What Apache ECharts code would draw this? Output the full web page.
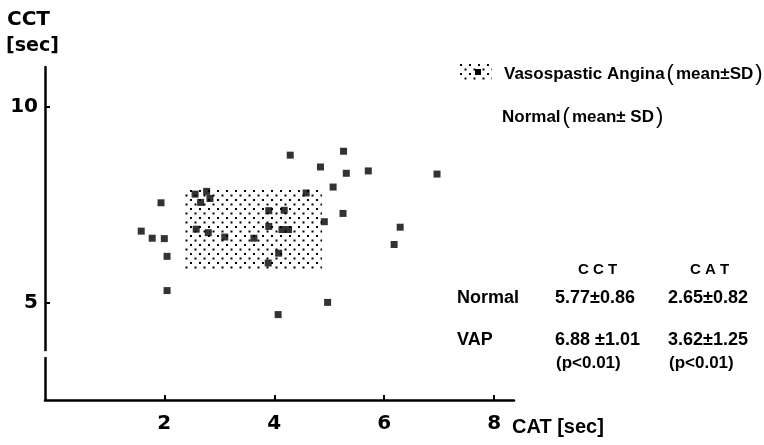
<!DOCTYPE html>
<html>
<head>
<meta charset="utf-8">
<script src="https://cdn.jsdelivr.net/npm/echarts@6/dist/echarts.min.js"></script>
<style>
  html, body { margin: 0; padding: 0; background: #fff; }
  #chart { width: 764px; height: 445px; }
</style>
</head>
<body>
<div id="chart"></div>
<script>
// Individual measurements: circulation appearance time (CAT) vs circulation clearance time (CCT)
const catX = [4.29, 4.84, 5.07, 1.94, 2.56, 2.77, 2.83, 2.66, 4.58, 3.90, 4.18, 4.91,
              3.90, 4.14, 4.26, 2.58, 2.80, 3.10, 3.63, 1.58, 1.78, 2.00, 2.05, 4.08,
              3.89, 2.05, 4.97, 4.07, 5.26, 5.31, 5.71, 6.96, 5.25, 6.29, 6.18];
const cctY = [8.76, 8.46, 7.95, 7.55, 7.77, 7.84, 7.66, 7.56, 7.80, 7.35, 7.36, 7.07,
              6.95, 6.87, 6.87, 6.88, 6.79, 6.68, 6.65, 6.83, 6.65, 6.64, 6.19, 6.27,
              6.02, 5.32, 5.02, 4.71, 8.86, 8.30, 8.36, 8.28, 7.28, 6.93, 6.49];

// Group statistics (mean, SD)
const groupNames = ['Normal', 'VAP'];
const cctMean = [5.77, 6.88];
const cctSD = [0.86, 1.01];
const catMean = [2.65, 3.62];
const catSD = [0.82, 1.25];
const pNote = '(p<0.01)';

const xTicks = [2, 4, 6, 8];
const yTicks = [5, 10];

const LIB = '"Liberation Sans", Arial, sans-serif';
const DJV = '"DejaVu Sans", sans-serif';

// dotted fill for the mean ± SD box
function dotPattern() {
  const c = document.createElement('canvas');
  c.width = 9; c.height = 9;
  const g = c.getContext('2d');
  g.fillStyle = '#000';
  g.fillRect(1, 1, 2, 2);
  g.fillRect(5.5, 5.5, 2, 2);
  return c;
}
const dots = dotPattern();

const vap = 1;
const boxData = [[catMean[vap] - catSD[vap], cctMean[vap] - cctSD[vap],
                  catMean[vap] + catSD[vap], cctMean[vap] + cctSD[vap]]];

const chart = echarts.init(document.getElementById('chart'), null, { renderer: 'canvas' });

const labelStyle = { color: '#000', fontFamily: DJV, fontWeight: 'bold', fontSize: 20 };

const option = {
  animation: false,
  backgroundColor: '#fff',
  grid: { left: 45, right: 250, top: 67, bottom: 45 },
  xAxis: {
    type: 'value', min: -0.17, max: 8.36,
    splitLine: { show: false },
    axisLine: { show: true, onZero: false, lineStyle: { color: '#000', width: 2.5 } },
    axisTick: { show: true, inside: true, length: 5, customValues: xTicks, lineStyle: { color: '#000', width: 2 } },
    axisLabel: Object.assign({ customValues: xTicks, margin: 14 }, labelStyle)
  },
  yAxis: {
    type: 'value', min: 2.54, max: 11.0,
    splitLine: { show: false },
    axisLine: { show: true, onZero: false, lineStyle: { color: '#000', width: 2.5 } },
    axisTick: { show: true, inside: true, length: 5, customValues: yTicks, lineStyle: { color: '#000', width: 2 } },
    axisLabel: Object.assign({ customValues: yTicks, margin: 7 }, labelStyle)
  },
  series: [
    {
      type: 'custom',
      z: 1,
      data: boxData,
      renderItem: function (params, api) {
        const p1 = api.coord([api.value(0), api.value(3)]);
        const p2 = api.coord([api.value(2), api.value(1)]);
        return {
          type: 'rect',
          shape: { x: p1[0], y: p1[1], width: p2[0] - p1[0], height: p2[1] - p1[1] },
          style: { fill: { image: dots, repeat: 'repeat' } }
        };
      }
    },
    {
      type: 'scatter',
      z: 3,
      symbol: 'rect',
      symbolSize: 7,
      itemStyle: { color: '#000' },
      data: catX.map((x, i) => [x, cctY[i]])
    }
  ]
};
chart.setOption(option);

// axis break, legend, titles and summary table
const breakTop = chart.convertToPixel({ yAxisIndex: 0 }, 3.78);
const breakBot = chart.convertToPixel({ yAxisIndex: 0 }, 3.63);
const axisX = chart.convertToPixel({ xAxisIndex: 0 }, -0.17);

function txt(x, y, s, font, extra) {
  return {
    type: 'text', x: x, y: y, z: 10,
    style: Object.assign({ text: s, fill: '#000', font: font, textVerticalAlign: 'middle' }, extra || {})
  };
}
function legendText(x, y, name, stat) {
  return {
    type: 'text', x: x, y: y, z: 10,
    style: {
      text: '{t|' + name + '}{p|(}{t|' + stat + '}{p|)}',
      textVerticalAlign: 'middle',
      rich: {
        t: { font: 'bold 17px ' + LIB, fill: '#000' },
        p: { font: '22px ' + LIB, fill: '#000', padding: [0, 2, 0, 2] }
      }
    }
  };
}

const colCCT = 555, colCAT = 668;
const rowNormal = 298, rowVAP = 340, rowP = 363;
const numFont = 'bold 18px ' + LIB;
const fmt = (m, s, gap) => m.toFixed(2) + gap + '±' + s.toFixed(2);

chart.setOption({
  graphic: [
    { type: 'rect', z: 20, shape: { x: axisX - 4, y: breakTop, width: 8, height: breakBot - breakTop }, style: { fill: '#fff' } },
    txt(7, 20, 'CCT', 'bold 20px ' + DJV),
    txt(6, 46, '[sec]', 'bold 19px ' + DJV),
    txt(512, 427, 'CAT [sec]', 'bold 20px ' + LIB),
    // legend
    { type: 'rect', z: 10, shape: { x: 460, y: 64, width: 32, height: 16 }, style: { fill: { image: dots, repeat: 'repeat' } } },
    { type: 'rect', z: 11, shape: { x: 475, y: 69, width: 6, height: 6 }, style: { fill: '#000' } },
    legendText(504, 74, 'Vasospastic Angina', 'mean±SD'),
    legendText(502, 117, 'Normal', 'mean± SD'),
    // table
    txt(578, 270, 'C C T', 'bold 15px ' + LIB),
    txt(690, 270, 'C A T', 'bold 15px ' + LIB),
    txt(457, rowNormal, groupNames[0], 'bold 18px ' + LIB),
    txt(457, rowVAP, groupNames[1], 'bold 18px ' + LIB),
    txt(colCCT, rowNormal, fmt(cctMean[0], cctSD[0], ''), numFont),
    txt(colCAT, rowNormal, fmt(catMean[0], catSD[0], ''), numFont),
    txt(colCCT, rowVAP, fmt(cctMean[1], cctSD[1], ' '), numFont),
    txt(colCAT, rowVAP, fmt(catMean[1], catSD[1], ''), numFont),
    txt(colCCT + 1, rowP, pNote, 'bold 17px ' + LIB),
    txt(colCAT + 1, rowP, pNote, 'bold 17px ' + LIB)
  ]
});
</script>
</body>
</html>
